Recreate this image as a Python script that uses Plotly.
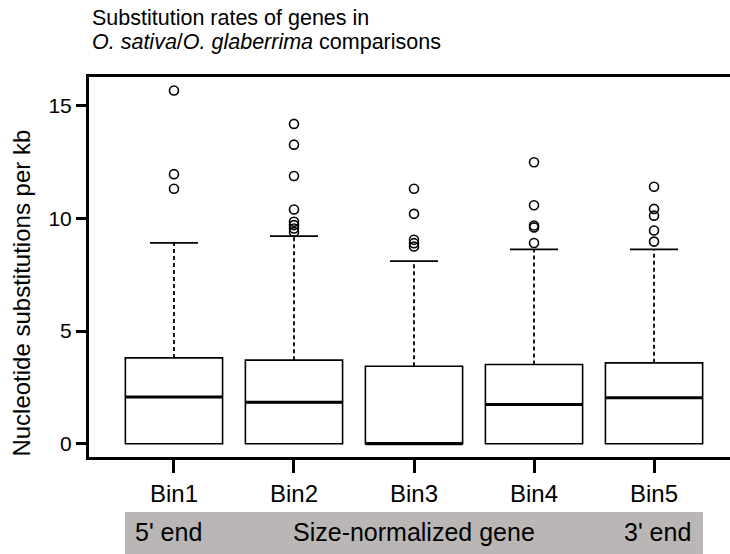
import plotly.graph_objects as go

bins = ["Bin1", "Bin2", "Bin3", "Bin4", "Bin5"]
q1 = [0.0, 0.0, 0.0, 0.0, 0.0]
median = [2.08, 1.84, 0.0, 1.74, 2.04]
q3 = [3.81, 3.71, 3.44, 3.52, 3.59]
lowerfence = [0.0, 0.0, 0.0, 0.0, 0.0]
upperfence = [8.91, 9.21, 8.10, 8.62, 8.62]
outliers = [
    [15.67, 11.96, 11.31],
    [14.19, 13.27, 11.88, 10.39, 9.85, 9.7, 9.55, 9.4],
    [11.31, 10.2, 9.05, 8.9, 8.75],
    [12.49, 10.58, 9.68, 9.6, 8.91],
    [11.4, 10.42, 10.12, 9.46, 8.97],
]
y_ticks = [0, 5, 10, 15]
band_labels = ["5' end", "Size-normalized gene", "3' end"]

FONT = "Liberation Sans, Arial, Helvetica, sans-serif"
BOX_W = 0.81
CAP_HALF = 0.2

fig = go.Figure()
xs = list(range(len(bins)))

# boxes
for i in xs:
    fig.add_trace(go.Box(
        x=[i], q1=[q1[i]], median=[median[i]], q3=[q3[i]],
        lowerfence=[q1[i]], upperfence=[q3[i]],
        boxpoints=False, width=BOX_W, whiskerwidth=0,
        line=dict(color="black", width=1.6), fillcolor="white",
        showlegend=False, hoverinfo="skip",
    ))

# medians (thick)
mx, my = [], []
for i in xs:
    mx += [i - BOX_W / 2, i + BOX_W / 2, None]
    my += [median[i], median[i], None]
fig.add_trace(go.Scatter(x=mx, y=my, mode="lines",
                         line=dict(color="black", width=3), showlegend=False, hoverinfo="skip"))

# dashed whiskers
wx, wy = [], []
for i in xs:
    wx += [i, i, None]
    wy += [q3[i], upperfence[i], None]
fig.add_trace(go.Scatter(x=wx, y=wy, mode="lines",
                         line=dict(color="black", width=1.8, dash="4px,3px"),
                         showlegend=False, hoverinfo="skip"))

# caps
cx, cy = [], []
for i in xs:
    cx += [i - CAP_HALF, i + CAP_HALF, None]
    cy += [upperfence[i], upperfence[i], None]
fig.add_trace(go.Scatter(x=cx, y=cy, mode="lines",
                         line=dict(color="black", width=1.8), showlegend=False, hoverinfo="skip"))

# outliers
ox, oy = [], []
for i in xs:
    for v in outliers[i]:
        ox.append(i)
        oy.append(v)
fig.add_trace(go.Scatter(x=ox, y=oy, mode="markers",
                         marker=dict(symbol="circle-open", size=9, color="black",
                                     line=dict(width=1.6, color="black")),
                         showlegend=False, hoverinfo="skip"))

H_PLOT = 457.5 - 77.3

def py(px):
    return (457.5 - px) / H_PLOT

def pxx(px):
    return (px - 89) / (730 - 89)

fig.add_shape(type="rect", xref="x", yref="paper",
              x0=-0.408, x1=4.408, y0=py(560), y1=py(512.5),
              fillcolor="#bab6b5", line=dict(width=0), layer="below")

annots = [
    dict(text=band_labels[0], x=-0.343, xanchor="left"),
    dict(text=band_labels[1], x=2.0, xanchor="center"),
    dict(text=band_labels[2], x=4.325, xanchor="right"),
]
for a in annots:
    fig.add_annotation(text=a["text"], xref="x", yref="paper", x=a["x"], y=py(533),
                       xanchor=a["xanchor"], yanchor="middle", showarrow=False,
                       font=dict(family=FONT, size=25, color="black"))

fig.add_annotation(text="Substitution rates of genes in", xref="paper", yref="paper",
                   x=pxx(90), y=py(18), xanchor="left", yanchor="middle", showarrow=False,
                   font=dict(family=FONT, size=21.5, color="black"))
fig.add_annotation(text="<i>O. sativa</i>/<i>O. glaberrima</i> comparisons", xref="paper", yref="paper",
                   x=pxx(90), y=py(42), xanchor="left", yanchor="middle", showarrow=False,
                   font=dict(family=FONT, size=21.5, color="black"))
fig.add_annotation(text="Nucleotide substitutions per kb", xref="paper", yref="paper",
                   x=pxx(22), y=py(294), xanchor="center", yanchor="middle", textangle=-90,
                   showarrow=False, font=dict(family=FONT, size=24, color="black"))

fig.update_layout(
    width=730, height=554,
    margin=dict(l=89, r=0, t=77.3, b=554 - 457.5, pad=0),
    plot_bgcolor="white", paper_bgcolor="white",
    font=dict(family=FONT, color="black"),
    showlegend=False,
    xaxis=dict(range=[-0.708, 4.633], tickvals=xs, ticktext=bins,
               ticks="outside", ticklen=13, tickwidth=3, tickcolor="black",
               showline=True, linewidth=3, linecolor="black", mirror=True,
               showgrid=False, zeroline=False,
               tickfont=dict(family=FONT, size=24, color="black")),
    yaxis=dict(range=[-0.585, 16.27], tickvals=y_ticks,
               ticks="outside", ticklen=10, tickwidth=3, tickcolor="black",
               showline=True, linewidth=3, linecolor="black",
               showgrid=False, zeroline=False,
               tickfont=dict(family=FONT, size=21, color="black")),
)

fig.write_html("out.html")
